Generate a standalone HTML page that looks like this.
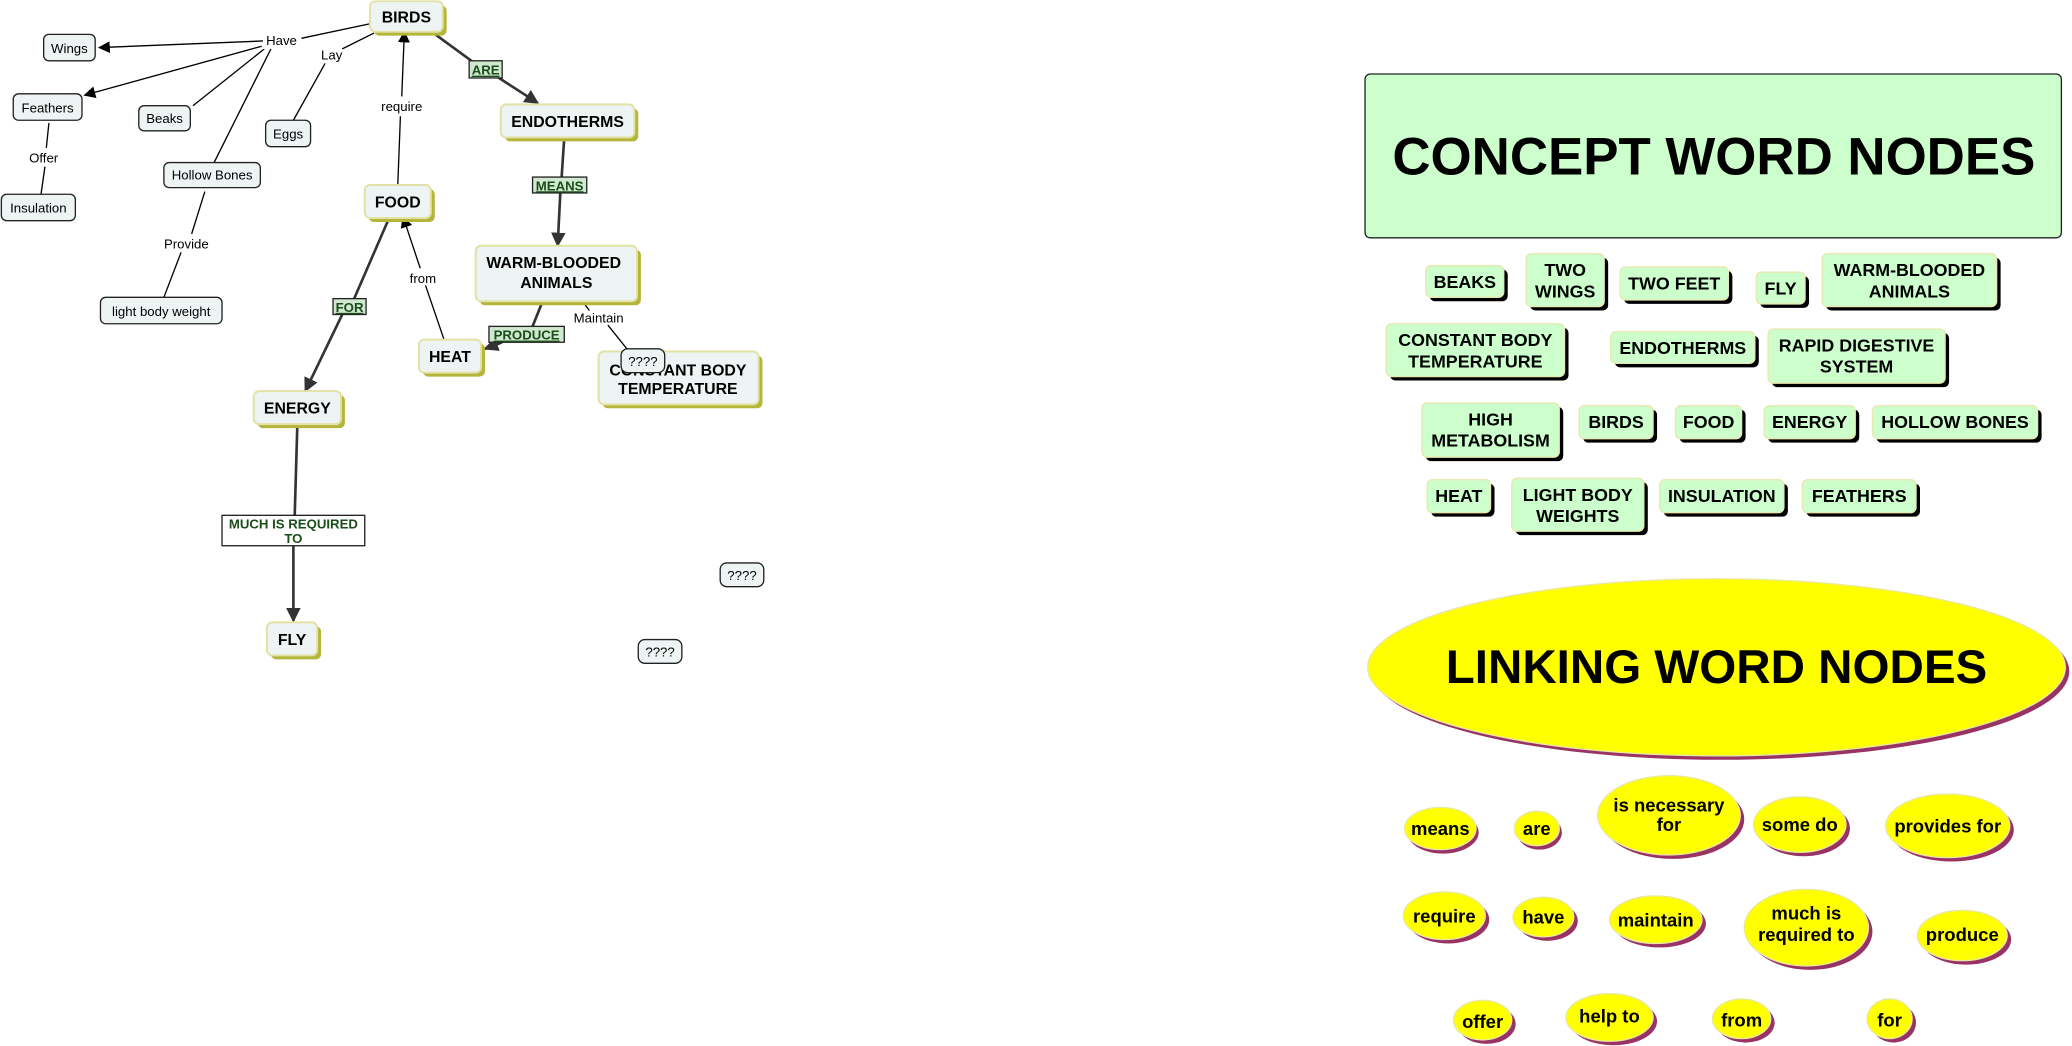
<!DOCTYPE html>
<html><head><meta charset="utf-8"><style>
html,body{margin:0;padding:0;background:#fff;}
svg{display:block;}
text{font-family:"Liberation Sans",Arial,sans-serif;}
</style></head><body>
<svg width="2072" height="1046" viewBox="0 0 1568 791.6" xmlns="http://www.w3.org/2000/svg">
<defs>
<marker id="ar" viewBox="0 0 10 10" refX="9" refY="5" markerWidth="9" markerHeight="9" markerUnits="userSpaceOnUse" orient="auto"><path d="M0,0 L10,5 L0,10 z" fill="#000"/></marker>
<marker id="ar2" viewBox="0 0 10 10" refX="9" refY="5" markerWidth="11" markerHeight="11" markerUnits="userSpaceOnUse" orient="auto"><path d="M0,0 L10,5 L0,10 z" fill="#333"/></marker>
</defs>
<rect width="1568" height="792" fill="#fff"/>
<g stroke="#000" stroke-width="1" fill="none">
<line x1="280" y1="18" x2="228" y2="29"/>
<line x1="199" y1="31" x2="75" y2="36" marker-end="url(#ar)"/>
<line x1="198" y1="35" x2="64" y2="72" marker-end="url(#ar)"/>
<line x1="200" y1="37" x2="146" y2="80"/>
<line x1="205" y1="37" x2="162" y2="123"/>
<line x1="155" y1="145" x2="145" y2="177"/>
<line x1="137" y1="191" x2="124" y2="225"/>
<line x1="37" y1="93" x2="35" y2="112"/>
<line x1="34" y1="126" x2="31" y2="147"/>
<line x1="283" y1="25" x2="259" y2="37"/>
<line x1="246" y1="48" x2="222" y2="91"/>
<line x1="301" y1="140" x2="303" y2="88"/>
<line x1="304" y1="73" x2="306" y2="24" marker-end="url(#ar)"/>
<line x1="336" y1="257" x2="322" y2="216"/>
<line x1="318" y1="203" x2="305" y2="164" marker-end="url(#ar)"/>
<line x1="440" y1="227" x2="446" y2="235"/>
<line x1="460" y1="246" x2="476" y2="266"/>
</g>
<g stroke="#333" stroke-width="2" fill="none">
<line x1="328" y1="25" x2="358" y2="47"/>
<line x1="376" y1="58" x2="407" y2="78" marker-end="url(#ar2)"/>
<line x1="427" y1="104" x2="425" y2="134"/>
<line x1="424" y1="146" x2="422" y2="186" marker-end="url(#ar2)"/>
<line x1="411" y1="227" x2="403" y2="247"/>
<line x1="380" y1="259" x2="367" y2="264" marker-end="url(#ar2)"/>
<line x1="294" y1="166" x2="268" y2="226"/>
<line x1="259" y1="238" x2="231" y2="296" marker-end="url(#ar2)"/>
<line x1="225" y1="321" x2="223" y2="390"/>
<line x1="222" y1="413" x2="222" y2="470" marker-end="url(#ar2)"/>
</g>
<g font-size="10" fill="#000" text-anchor="middle">
<rect x="199" y="24" width="29" height="13" fill="#fff"/><text x="213" y="34">Have</text>
<text x="251" y="45">Lay</text>
<text x="33" y="123">Offer</text>
<text x="141" y="188">Provide</text>
<text x="304" y="84">require</text>
<text x="320" y="214">from</text>
<text x="453" y="244">Maintain</text>
</g>
<g font-size="10" font-weight="bold" fill="#1a4d1a" text-anchor="middle">
<rect x="355" y="46" width="25" height="13" fill="#cfe8cf" stroke="#222"/><text x="367.5" y="56.5" text-decoration="underline">ARE</text>
<rect x="403" y="134" width="41" height="12" fill="#cfe8cf" stroke="#222"/><text x="423.5" y="144" text-decoration="underline">MEANS</text>
<rect x="252" y="226" width="25" height="12" fill="#cfe8cf" stroke="#222"/><text x="264.5" y="236" text-decoration="underline">FOR</text>
<rect x="370" y="247" width="57" height="12" fill="#cfe8cf" stroke="#222"/><text x="398.5" y="257" text-decoration="underline">PRODUCE</text>
<rect x="168" y="390" width="108" height="23" fill="#fff" stroke="#222"/><text x="222" y="400">MUCH IS REQUIRED</text><text x="222" y="411">TO</text>
</g>
<g fill="#eef4f4" stroke="#222" stroke-width="1">
<rect x="33" y="26" width="39" height="20" rx="4"/>
<rect x="10" y="71" width="52" height="20" rx="4"/>
<rect x="105" y="80" width="39" height="19" rx="4"/>
<rect x="201" y="91" width="34" height="20" rx="4"/>
<rect x="124" y="123" width="73" height="19" rx="4"/>
<rect x="1" y="147" width="56" height="20" rx="4"/>
<rect x="76" y="225" width="92" height="20" rx="4"/>
</g>
<g font-size="10" fill="#000" text-anchor="middle">
<text x="52.5" y="40">Wings</text>
<text x="36" y="85">Feathers</text>
<text x="124.5" y="93">Beaks</text>
<text x="218" y="105">Eggs</text>
<text x="160.5" y="136">Hollow Bones</text>
<text x="29" y="161">Insulation</text>
<text x="122" y="239">light body weight</text>
</g>
<g>
<g fill="#b5b53a">
<rect x="283" y="4" width="55" height="23" rx="4"/>
<rect x="382" y="82" width="101" height="25" rx="4"/>
<rect x="279" y="143" width="50" height="25" rx="4"/>
<rect x="363" y="189" width="122" height="42" rx="4"/>
<rect x="320" y="260" width="47" height="25" rx="4"/>
<rect x="456" y="269" width="121" height="40" rx="4"/>
<rect x="195" y="299" width="66" height="25" rx="4"/>
<rect x="205" y="474" width="38" height="25" rx="4"/>
</g>
<g fill="#eef4f4" stroke="#e2e2a6" stroke-width="1.5">
<rect x="280" y="1" width="55" height="23" rx="4"/>
<rect x="379" y="79" width="101" height="25" rx="4"/>
<rect x="276" y="140" width="50" height="25" rx="4"/>
<rect x="360" y="186" width="122" height="42" rx="4"/>
<rect x="317" y="257" width="47" height="25" rx="4"/>
<rect x="453" y="266" width="121" height="40" rx="4"/>
<rect x="192" y="296" width="66" height="25" rx="4"/>
<rect x="202" y="471" width="38" height="25" rx="4"/>
</g>
<g font-size="12" font-weight="bold" fill="#000" text-anchor="middle">
<text x="307.5" y="17">BIRDS</text>
<text x="429.5" y="96">ENDOTHERMS</text>
<text x="301" y="157">FOOD</text>
<text x="419" y="203">WARM-BLOODED</text><text x="421" y="218">ANIMALS</text>
<text x="340.5" y="274">HEAT</text>
<text x="513" y="284">CONSTANT BODY</text><text x="513" y="298">TEMPERATURE</text>
<text x="225" y="313">ENERGY</text>
<text x="221" y="488">FLY</text>
</g>
</g>
<g fill="#eef4f4" stroke="#222">
<rect x="470" y="264" width="33" height="18" rx="5"/>
<rect x="545" y="426" width="33" height="18" rx="5"/>
<rect x="483" y="484" width="33" height="18" rx="5"/>
</g>
<g font-size="10" text-anchor="middle">
<text x="486.5" y="277">????</text><text x="561.5" y="439">????</text><text x="499.5" y="497">????</text>
</g>
<rect x="1033" y="56" width="527" height="124" rx="4" fill="#ccffcc" stroke="#222"/>
<text x="1297" y="132" font-size="40" font-weight="bold" text-anchor="middle">CONCEPT WORD NODES</text>
<g fill="#000">
<rect x="1082" y="204" width="59" height="24" rx="4"/>
<rect x="1158" y="195" width="59" height="40" rx="4"/>
<rect x="1229" y="205" width="82" height="25" rx="4"/>
<rect x="1332" y="209" width="37" height="24" rx="4"/>
<rect x="1382" y="195" width="132" height="40" rx="4"/>
<rect x="1052" y="248" width="135" height="40" rx="4"/>
<rect x="1222" y="254" width="109" height="24" rx="4"/>
<rect x="1341" y="252" width="134" height="41" rx="4"/>
<rect x="1079" y="308" width="104" height="41" rx="4"/>
<rect x="1198" y="310" width="56" height="25" rx="4"/>
<rect x="1271" y="310" width="50" height="25" rx="4"/>
<rect x="1338" y="310" width="69" height="25" rx="4"/>
<rect x="1420" y="310" width="125" height="25" rx="4"/>
<rect x="1083" y="366" width="48" height="25" rx="4"/>
<rect x="1147" y="365" width="100" height="40" rx="4"/>
<rect x="1259" y="366" width="94" height="25" rx="4"/>
<rect x="1367" y="366" width="86" height="25" rx="4"/>
</g>
<g fill="#ccffcc" stroke="#e8e8b0" stroke-width="1">
<rect x="1079" y="201" width="59" height="24" rx="4"/>
<rect x="1155" y="192" width="59" height="40" rx="4"/>
<rect x="1226" y="202" width="82" height="25" rx="4"/>
<rect x="1329" y="206" width="37" height="24" rx="4"/>
<rect x="1379" y="192" width="132" height="40" rx="4"/>
<rect x="1049" y="245" width="135" height="40" rx="4"/>
<rect x="1219" y="251" width="109" height="24" rx="4"/>
<rect x="1338" y="249" width="134" height="41" rx="4"/>
<rect x="1076" y="305" width="104" height="41" rx="4"/>
<rect x="1195" y="307" width="56" height="25" rx="4"/>
<rect x="1268" y="307" width="50" height="25" rx="4"/>
<rect x="1335" y="307" width="69" height="25" rx="4"/>
<rect x="1417" y="307" width="125" height="25" rx="4"/>
<rect x="1080" y="363" width="48" height="25" rx="4"/>
<rect x="1144" y="362" width="100" height="40" rx="4"/>
<rect x="1256" y="363" width="94" height="25" rx="4"/>
<rect x="1364" y="363" width="86" height="25" rx="4"/>
</g>
<g font-size="13.5" font-weight="bold" text-anchor="middle" fill="#000">
<text x="1108.5" y="218">BEAKS</text>
<text x="1184.5" y="209">TWO</text><text x="1184.5" y="225">WINGS</text>
<text x="1267" y="219">TWO FEET</text>
<text x="1347.5" y="223">FLY</text>
<text x="1445" y="209">WARM-BLOODED</text><text x="1445" y="225">ANIMALS</text>
<text x="1116.5" y="262">CONSTANT BODY</text><text x="1116.5" y="278">TEMPERATURE</text>
<text x="1273.5" y="268">ENDOTHERMS</text>
<text x="1405" y="266">RAPID DIGESTIVE</text><text x="1405" y="282">SYSTEM</text>
<text x="1128" y="322">HIGH</text><text x="1128" y="338">METABOLISM</text>
<text x="1223" y="324">BIRDS</text>
<text x="1293" y="324">FOOD</text>
<text x="1369.5" y="324">ENERGY</text>
<text x="1479.5" y="324">HOLLOW BONES</text>
<text x="1104" y="380">HEAT</text>
<text x="1194" y="379">LIGHT BODY</text><text x="1194" y="395">WEIGHTS</text>
<text x="1303" y="380">INSULATION</text>
<text x="1407" y="380">FEATHERS</text>
</g>
<ellipse cx="1302" cy="508" rx="264" ry="67" fill="#993366"/>
<ellipse cx="1299" cy="505" rx="264" ry="67" fill="#ffff00" stroke="#e8e8a0"/>
<text x="1299" y="517" font-size="36" font-weight="bold" text-anchor="middle">LINKING WORD NODES</text>
<g fill="#993366">
<ellipse cx="1092" cy="630" rx="27" ry="16"/>
<ellipse cx="1165" cy="630" rx="17" ry="13"/>
<ellipse cx="1266" cy="620" rx="54" ry="30"/>
<ellipse cx="1365" cy="627" rx="35" ry="21"/>
<ellipse cx="1477" cy="628" rx="47" ry="24"/>
<ellipse cx="1096" cy="696" rx="31" ry="18"/>
<ellipse cx="1171" cy="697" rx="23" ry="15"/>
<ellipse cx="1256" cy="699" rx="35" ry="18"/>
<ellipse cx="1370" cy="705" rx="47" ry="29"/>
<ellipse cx="1488" cy="711" rx="34" ry="19"/>
<ellipse cx="1125" cy="775" rx="22" ry="15"/>
<ellipse cx="1221" cy="773" rx="33" ry="18"/>
<ellipse cx="1321" cy="774" rx="22" ry="15"/>
<ellipse cx="1433" cy="774" rx="17" ry="15"/>
</g>
<g fill="#ffff00" stroke="#e8e8a0">
<ellipse cx="1090" cy="627" rx="27" ry="16"/>
<ellipse cx="1163" cy="627" rx="17" ry="13"/>
<ellipse cx="1263" cy="617" rx="54" ry="30"/>
<ellipse cx="1362" cy="624" rx="35" ry="21"/>
<ellipse cx="1474" cy="625" rx="47" ry="24"/>
<ellipse cx="1093" cy="693" rx="31" ry="18"/>
<ellipse cx="1168" cy="694" rx="23" ry="15"/>
<ellipse cx="1253" cy="696" rx="35" ry="18"/>
<ellipse cx="1367" cy="702" rx="47" ry="29"/>
<ellipse cx="1485" cy="708" rx="34" ry="19"/>
<ellipse cx="1122" cy="772" rx="22" ry="15"/>
<ellipse cx="1218" cy="770" rx="33" ry="18"/>
<ellipse cx="1318" cy="771" rx="22" ry="15"/>
<ellipse cx="1430" cy="771" rx="17" ry="15"/>
</g>
<g font-size="14" font-weight="bold" text-anchor="middle" fill="#000">
<text x="1090" y="632">means</text>
<text x="1163" y="632">are</text>
<text x="1263" y="614">is necessary</text><text x="1263" y="629">for</text>
<text x="1362" y="629">some do</text>
<text x="1474" y="630">provides for</text>
<text x="1093" y="698">require</text>
<text x="1168" y="699">have</text>
<text x="1253" y="701">maintain</text>
<text x="1367" y="696">much is</text><text x="1367" y="712">required to</text>
<text x="1485" y="712">produce</text>
<text x="1122" y="778">offer</text>
<text x="1218" y="774">help to</text>
<text x="1318" y="777">from</text>
<text x="1430" y="777">for</text>
</g>
</svg>
</body></html>
